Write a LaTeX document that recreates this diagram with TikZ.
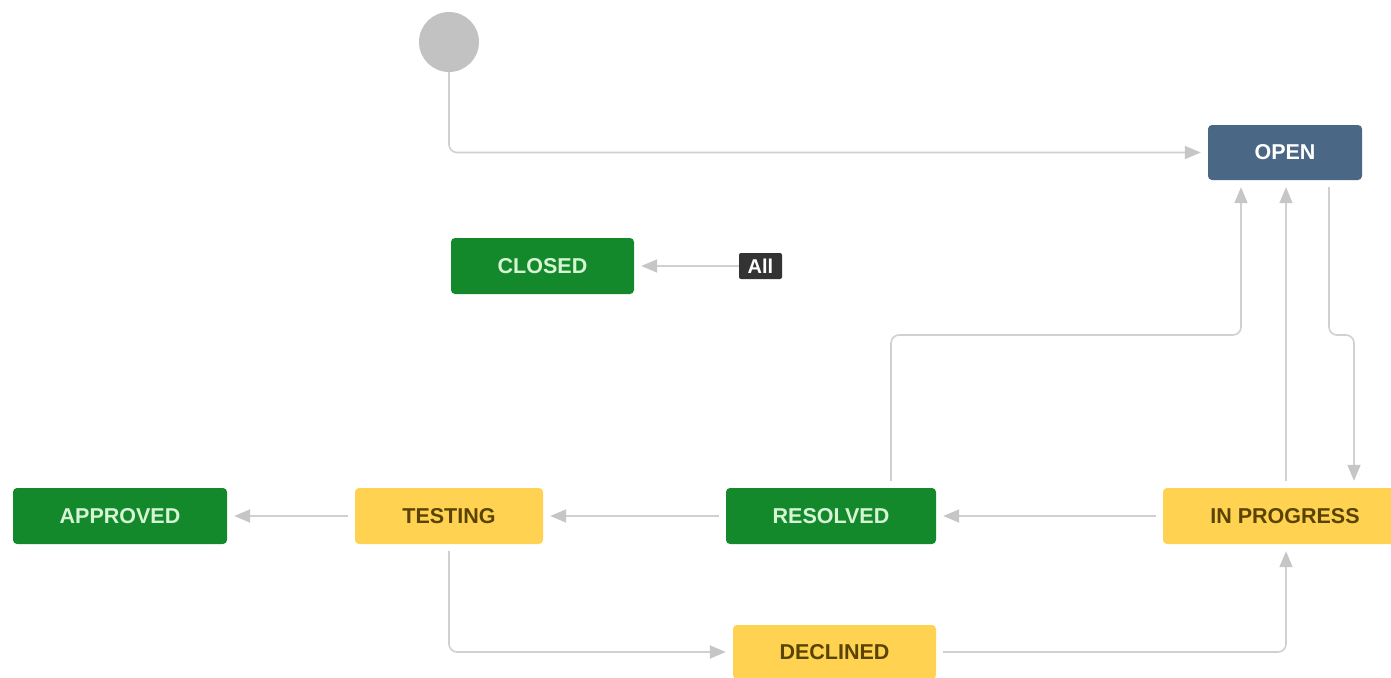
\documentclass[tikz,border=0pt]{standalone}
\usepackage{fontspec}
\setmainfont{Liberation Sans}
\usetikzlibrary{arrows.meta}
\definecolor{jgreen}{HTML}{14892C}
\definecolor{jgreentxt}{HTML}{D5F5D5}
\definecolor{jblue}{HTML}{4A6785}
\definecolor{jyellow}{HTML}{FFD351}
\definecolor{jyellowtxt}{HTML}{594300}
\definecolor{jline}{HTML}{D0D0D0}
\definecolor{jtip}{HTML}{C6C6C6}
\definecolor{jstart}{HTML}{C2C2C2}
\definecolor{jlabel}{HTML}{333333}
\tikzset{
  status/.style={rectangle, rounded corners=4pt, inner sep=0pt,
    minimum height=56pt, font=\fontsize{21.5}{25}\selectfont\bfseries},
  greenbox/.style={status, fill=jgreen, text=jgreentxt},
  bluebox/.style={status, fill=jblue, text=white},
  yellowbox/.style={status, fill=jyellow, text=jyellowtxt},
  alllabel/.style={rectangle, rounded corners=2pt, fill=jlabel, text=white,
    inner sep=0pt, minimum width=43pt, minimum height=26pt,
    font=\fontsize{20}{24}\selectfont\bfseries},
  conn/.style={draw=jline, line width=1.6pt, rounded corners=8pt,
    -{Triangle[length=16pt,width=13pt,color=jtip]},
    shorten >=7pt, shorten <=7pt},
}
\begin{document}
\begin{tikzpicture}[x=1pt,y=-1pt]
\useasboundingbox (0,0) rectangle (1391,677);
\fill[white] (0,0) rectangle (1391,677);
% nodes
\node[circle, fill=jstart, minimum size=60pt, inner sep=0pt] (start) at (449,42) {};
\node[bluebox, minimum width=154pt, minimum height=55pt] (open) at (1285,152.5) {OPEN};
\node[greenbox, minimum width=183pt] (closed) at (542.5,266) {CLOSED};
\node[alllabel] (all) at (760.5,266) {All};
\node[greenbox, minimum width=214pt] (approved) at (120,516) {APPROVED};
\node[yellowbox, minimum width=188pt] (testing) at (449,516) {TESTING};
\node[greenbox, minimum width=210pt] (resolved) at (831,516) {RESOLVED};
\node[yellowbox, minimum width=244pt] (inprog) at (1285,516) {IN PROGRESS};
\node[yellowbox, minimum width=203pt, minimum height=54pt] (declined) at (834.5,652) {DECLINED};
% connectors
\draw[conn, shorten <=0pt] (start.south) |- (open.west);
\draw[conn, shorten <=0pt] (all.west) -- (closed.east);
\draw[conn] ([xshift=60pt]resolved.north) -- (891,335) -- (1241,335) -- ([xshift=-44pt]open.south);
\draw[conn] ([xshift=1pt]inprog.north) -- ([xshift=1pt]open.south);
\draw[conn] ([xshift=44pt]open.south) -- (1329,335) -- (1354,335) -- ([xshift=69pt]inprog.north);
\draw[conn] (inprog.west) -- (resolved.east);
\draw[conn] (resolved.west) -- (testing.east);
\draw[conn] (testing.west) -- (approved.east);
\draw[conn] (testing.south) |- (declined.west);
\draw[conn] (declined.east) -| ([xshift=1pt]inprog.south);
\end{tikzpicture}
\end{document}
